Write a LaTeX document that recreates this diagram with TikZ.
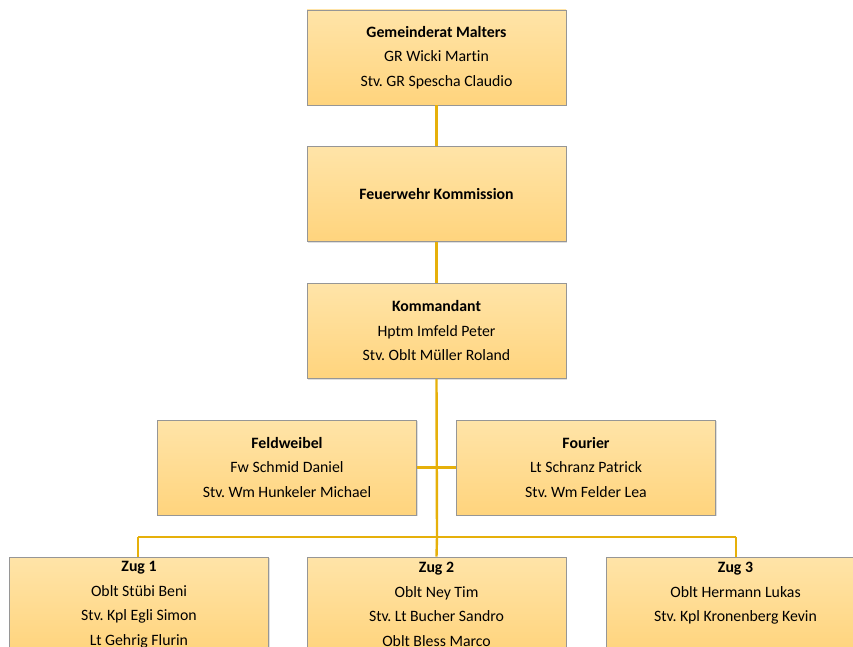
\documentclass[tikz,border=0pt]{standalone}
\usepackage{fontspec}
\setmainfont{Carlito}[Ligatures={NoCommon}]
\usetikzlibrary{shadows}
\definecolor{boxtop}{RGB}{255,228,168}
\definecolor{boxbot}{RGB}{255,212,125}
\definecolor{boxline}{RGB}{150,150,150}
\definecolor{conn}{RGB}{230,176,10}
\tikzset{
  orgbox/.style={draw=boxline, line width=0.9pt, top color=boxtop, bottom color=boxbot,
    minimum width=259pt, minimum height=95pt, inner sep=0pt, align=center,
    font=\fontsize{15.8}{24.5}\selectfont,
    drop shadow={shadow xshift=1pt, shadow yshift=-1pt, opacity=0.25}},
  link/.style={draw=conn, line width=2.4pt}
}
\begin{document}
\frenchspacing
\begin{tikzpicture}[x=1pt,y=-1pt]
\useasboundingbox (0,0) rectangle (853,647);
\clip (0,0) rectangle (853,647);
\fill[white] (0,0) rectangle (853,647);
\coordinate (bus) at (437,537);
\coordinate (busL) at (138,537);
\coordinate (busR) at (736,537);
\node[orgbox] (gr) at (436.5,57.5) {\textbf{Gemeinderat Malters}\\GR Wicki Martin\\Stv. GR Spescha Claudio};
\node[orgbox] (fk) at (436.5,194) {\textbf{Feuerwehr Kommission}};
\node[orgbox] (kdt) at (436.5,331) {\textbf{Kommandant}\\Hptm Imfeld Peter\\Stv. Oblt Müller Roland};
\node[orgbox] (fw) at (287,467.5) {\textbf{Feldweibel}\\Fw Schmid Daniel\\Stv. Wm Hunkeler Michael};
\node[orgbox] (fo) at (586,467.5) {\textbf{Fourier}\\Lt Schranz Patrick\\Stv. Wm Felder Lea};
\node[orgbox] (z1) at (139,604.5) {\textbf{Zug 1}\\Oblt Stübi Beni\\Stv. Kpl Egli Simon\\Lt Gehrig Flurin};
\node[orgbox] (z2) at (436.5,604.5) {\textbf{Zug 2}\\Oblt Ney Tim\\Stv. Lt Bucher Sandro\\Oblt Bless Marco};
\node[orgbox] (z3) at (735.5,604.5) {\textbf{Zug 3}\\Oblt Hermann Lukas\\Stv. Kpl Kronenberg Kevin\\\phantom{X}};
\draw[link] (gr.south) -- (fk.north);
\draw[link] (fk.south) -- (kdt.north);
\draw[link] (kdt.south) -- (bus);
\draw[link] (fw.east) -- (fo.west);
\draw[link] (busL) -- (busR);
\draw[link] (busL) -- (busL |- z1.north);
\draw[link] (bus) -- (z2.north);
\draw[link] (busR) -- (busR |- z3.north);
\end{tikzpicture}
\end{document}
